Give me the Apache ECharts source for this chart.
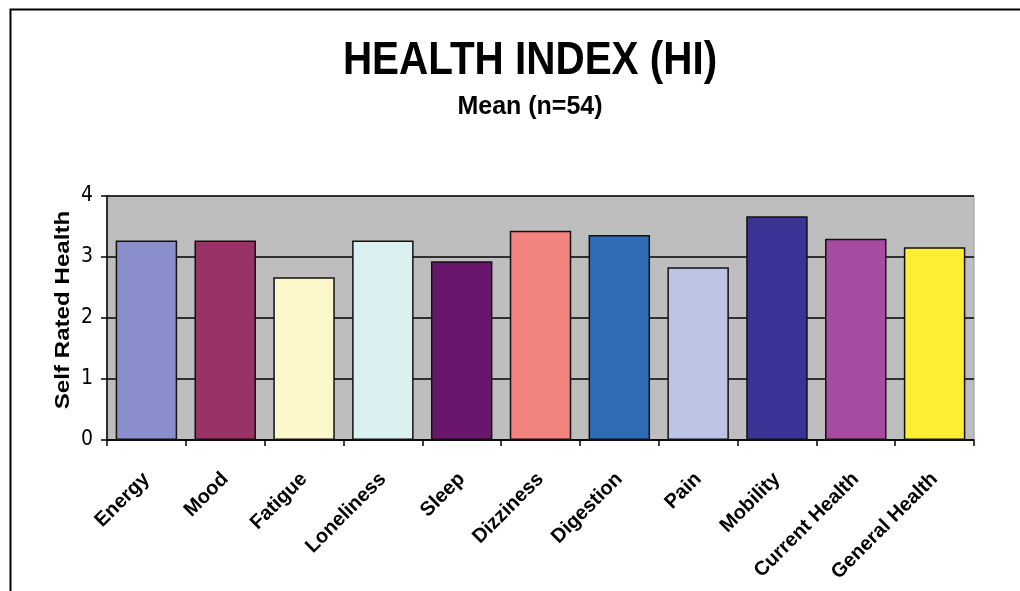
<!DOCTYPE html>
<html>
<head>
<meta charset="utf-8">
<script src="https://cdn.jsdelivr.net/npm/echarts@6/dist/echarts.min.js"></script>
<style>
html,body{margin:0;padding:0;background:#fff;}
#chart{width:1020px;height:591px;}
</style>
</head>
<body>
<div id="chart"></div>
<script>
const categories = ['Energy','Mood','Fatigue','Loneliness','Sleep','Dizziness','Digestion','Pain','Mobility','Current Health','General Health'];
const meanValues = [3.27, 3.27, 2.67, 3.27, 2.93, 3.43, 3.36, 2.83, 3.67, 3.30, 3.16];
const yTicks = [0, 1, 2, 3, 4];
const titleText = 'HEALTH INDEX (HI)';
const subtitleText = 'Mean (n=54)';
const yAxisTitle = 'Self Rated Health';

const barColors = ['#8a8fcb','#993366','#fdf8cc','#dbf1f1','#69166d','#f2837f','#2f6cb6','#bdc4e6','#3a3295','#a64b9f','#ffee33'];

const chart = echarts.init(document.getElementById('chart'), null, {renderer:'canvas'});
const narrow = "'Liberation Sans Narrow','Arial Narrow','DejaVu Sans Condensed','Liberation Sans',Arial,sans-serif";
const sans = "'Liberation Sans',Arial,Helvetica,sans-serif";

chart.setOption({
  animation: false,
  backgroundColor: '#ffffff',
  grid: {left: 107, right: 46, top: 196, bottom: 151, show: true, backgroundColor: '#bebebe', borderColor: '#9a9a9a', borderWidth: 1},
  xAxis: {
    type: 'category',
    data: categories,
    boundaryGap: true,
    axisLine: {lineStyle: {color: '#000', width: 1.5}},
    axisTick: {show: true, alignWithLabel: false, inside: false, length: 6, lineStyle: {color: '#000', width: 1.5}},
    axisLabel: {rotate: 45, margin: 36, color: '#000', fontFamily: sans, fontWeight: 'bold', fontSize: 20, interval: 0}
  },
  yAxis: {
    type: 'value',
    min: yTicks[0],
    max: yTicks[yTicks.length - 1],
    interval: 1,
    axisLine: {show: true, lineStyle: {color: '#000', width: 1.5}},
    axisTick: {show: true, length: 6, lineStyle: {color: '#000', width: 1.5}},
    axisLabel: {margin: 14, color: '#000', fontFamily: narrow, fontSize: 21},
    splitLine: {show: true, lineStyle: {color: '#000', width: 1.5}}
  },
  series: [{
    type: 'bar',
    data: meanValues.map((v, i) => ({value: v, itemStyle: {color: barColors[i]}})),
    barCategoryGap: '22%',
    itemStyle: {borderColor: '#111', borderWidth: 1.5},
    z: 3
  }],
  graphic: [
    {type: 'rect', left: 8, top: 7, z: 10, silent: true,
     shape: {x: 0, y: 0, width: 1100, height: 700},
     style: {fill: 'none', stroke: '#000', lineWidth: 2}},
    {type: 'text', x: 530, y: 61, scaleX: 0.86, z: 10,
     style: {text: titleText, x: 0, y: 0, align: 'center', verticalAlign: 'middle', font: "bold 47px 'Liberation Sans',Arial,sans-serif", fill: '#000'}},
    {type: 'text', x: 530, y: 107, z: 10,
     style: {text: subtitleText, x: 0, y: 0, align: 'center', verticalAlign: 'middle', font: "bold 25px 'Liberation Sans',Arial,sans-serif", fill: '#000'}},
    {type: 'text', x: 63, y: 310, rotation: Math.PI / 2, scaleX: 1.15, z: 10,
     style: {text: yAxisTitle, x: 0, y: 0, align: 'center', verticalAlign: 'middle', font: "bold 21px 'Liberation Sans',Arial,sans-serif", fill: '#000'}}
  ]
});
</script>
</body>
</html>
